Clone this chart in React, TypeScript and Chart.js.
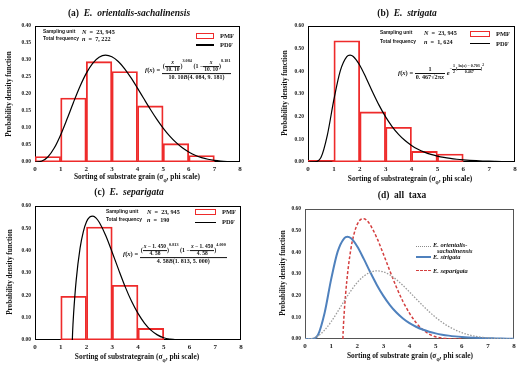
import React, { useEffect, useRef } from "react";
import { Chart, registerables } from "chart.js";
Chart.register(...registerables);

// ---------- data ----------
const binCentersA = [0.5, 1.5, 2.5, 3.5, 4.5, 5.5, 6.5];
const pmfA = [0.016, 0.188, 0.295, 0.266, 0.165, 0.054, 0.019];
const binCentersB = [0.5, 1.5, 2.5, 3.5, 4.5, 5.5];
const pmfB = [0.007, 0.535, 0.221, 0.153, 0.047, 0.035];
const binCentersC = [1.5, 2.5, 3.5, 4.5];
const pmfC = [0.196, 0.506, 0.245, 0.052];

const pdfXA = [0, 0.25, 0.5, 0.75, 1, 1.25, 1.5, 1.75, 2, 2.25, 2.5, 2.75, 3, 3.25, 3.5, 3.75, 4, 4.25, 4.5, 4.75, 5, 5.25, 5.5, 5.75, 6, 6.25, 6.5, 6.75, 7, 7.25, 7.5, 7.75, 8];
const pdfA = [0, 0.0021, 0.0146, 0.041, 0.0797, 0.1262, 0.1752, 0.2214, 0.2606, 0.29, 0.3079, 0.3144, 0.3097, 0.2956, 0.2741, 0.2472, 0.2171, 0.1859, 0.1552, 0.1262, 0.0999, 0.077, 0.0576, 0.0418, 0.0294, 0.0199, 0.013, 0.0081, 0.0048, 0.0027, 0.0014, 0.0007, 0.0003];

const pdfXB = [0, 0.25, 0.5, 0.75, 1, 1.25, 1.5, 1.625, 1.75, 2, 2.25, 2.5, 2.75, 3, 3.25, 3.5, 3.75, 4, 4.25, 4.5, 4.75, 5, 5.25, 5.5, 5.75, 6, 6.25, 6.5, 6.75, 7, 7.25, 7.5, 7.75, 8];
const pdfB = [0, 0.0002, 0.0196, 0.12, 0.2751, 0.4031, 0.4649, 0.4717, 0.4657, 0.427, 0.3697, 0.3079, 0.2497, 0.1989, 0.1565, 0.1221, 0.0947, 0.0732, 0.0565, 0.0436, 0.0336, 0.026, 0.0201, 0.0156, 0.0121, 0.0094, 0.0073, 0.0057, 0.0045, 0.0035, 0.0028, 0.0022, 0.0017, 0.0014];

const pdfXC = [1.45, 1.46, 1.475, 1.5, 1.6, 1.75, 1.875, 2, 2.125, 2.25, 2.375, 2.5, 2.75, 3, 3.25, 3.5, 3.75, 4, 4.25, 4.5, 4.75, 5, 5.25, 5.5, 5.75, 6];
const pdfC = [0, 0.034, 0.07, 0.12, 0.268, 0.411, 0.484, 0.529, 0.551, 0.555, 0.546, 0.526, 0.467, 0.392, 0.314, 0.239, 0.173, 0.119, 0.076, 0.044, 0.023, 0.01, 0.004, 0.001, 0.0001, 0];

const xMin = 0;
const xMax = 8;

// ---------- styles ----------
const serif = '"Liberation Serif", "Times New Roman", serif';
const sans = '"Liberation Sans", Arial, sans-serif';
const RED = "#ee2b2b";

const framePlugin = {
  id: "frame",
  beforeDatasetsDraw(chart: any, _args: any, opts: any) {
    const { ctx, chartArea } = chart;
    const { left, top, right, bottom } = chartArea;
    ctx.save();
    ctx.strokeStyle = opts.color || "#000";
    ctx.lineWidth = 1;
    ctx.strokeRect(Math.round(left) + 0.5, Math.round(top) + 0.5, Math.round(right - left) - 1, Math.round(bottom - top) - 1);
    ctx.restore();
  },
};

const pts = (xs: number[], ys: number[]) => xs.map((x, i) => ({ x, y: ys[i] }));

const barSet = (xs: number[], ys: number[]) => ({
  type: "bar",
  data: pts(xs, ys),
  borderColor: RED,
  backgroundColor: "rgba(255,255,255,0)",
  borderWidth: 1.2,
  borderSkipped: false,
  barPercentage: 1,
  categoryPercentage: 1,
  order: 2,
});

const lineSet = (xs: number[], ys: number[], color: string, width: number, dash: number[] = []) => ({
  type: "line",
  data: pts(xs, ys),
  borderColor: color,
  borderWidth: width,
  borderDash: dash,
  pointRadius: 0,
  fill: false,
  cubicInterpolationMode: "monotone",
  order: 1,
});

type Spec = {
  left: number; top: number; w: number; h: number;
  L: number; R: number; T: number; B: number;
  yMax: number; yStep: number; datasets: any[]; frame: string;
};

function ChartPanel({ spec }: { spec: Spec }) {
  const ref = useRef<HTMLCanvasElement>(null);
  useEffect(() => {
    const yW = 24;
    const xH = 12;
    const chart = new Chart(ref.current as HTMLCanvasElement, {
      type: "line",
      data: { datasets: spec.datasets },
      options: {
        responsive: false,
        animation: false,
        devicePixelRatio: 1,
        layout: {
          padding: {
            left: spec.L - yW,
            right: spec.w - spec.R,
            top: spec.T,
            bottom: spec.h - spec.B - xH,
          },
        },
        plugins: {
          legend: { display: false },
          tooltip: { enabled: false },
          title: { display: false },
          frame: { color: spec.frame },
        } as any,
        scales: {
          x: {
            type: "linear",
            min: xMin,
            max: xMax,
            offset: false,
            grid: { display: false, drawTicks: false },
            border: { display: false },
            ticks: {
              stepSize: 1,
              autoSkip: false,
              maxRotation: 0,
              padding: 3,
              color: "#222",
              font: { family: serif, size: 7, weight: "bold" },
            },
            afterFit: (s: any) => { s.height = xH; },
          },
          y: {
            type: "linear",
            min: 0,
            max: spec.yMax,
            grid: { display: false, drawTicks: false },
            border: { display: false },
            ticks: {
              stepSize: spec.yStep,
              padding: 4,
              color: "#222",
              font: { family: serif, size: 5.5, weight: "bold" },
              callback: (v: any) => Number(v).toFixed(2),
            },
            afterFit: (s: any) => { s.width = yW; },
          },
        } as any,
      } as any,
      plugins: [framePlugin],
    } as any);
    return () => chart.destroy();
  }, []);
  return (
    <canvas
      ref={ref}
      width={spec.w}
      height={spec.h}
      style={{ position: "absolute", left: spec.left, top: spec.top, width: spec.w, height: spec.h }}
    />
  );
}

function Txt(props: {
  x: number; y: number; size: number; children: any;
  anchor?: "start" | "middle" | "end"; bold?: boolean; italic?: boolean;
  family?: string; rotate?: boolean; color?: string;
}) {
  const { x, y, size, children, anchor = "start", bold = false, italic = false, family = serif, rotate = false, color = "#111" } = props;
  const tx = anchor === "middle" ? "-50%" : anchor === "end" ? "-100%" : "0";
  return (
    <div
      style={{
        position: "absolute",
        left: x,
        top: y,
        transform: `translate(${tx}, -50%)${rotate ? " rotate(-90deg)" : ""}`,
        fontFamily: family,
        fontSize: size,
        fontWeight: bold ? "bold" : "normal",
        fontStyle: italic ? "italic" : "normal",
        color,
        whiteSpace: "nowrap",
        lineHeight: 1,
      }}
    >
      {children}
    </div>
  );
}

function Frac({ n, d, size, line = 0.7 }: { n: any; d: any; size: number; line?: number }) {
  return (
    <span style={{ display: "inline-flex", flexDirection: "column", alignItems: "center", verticalAlign: "middle", fontSize: size, lineHeight: 1.05 }}>
      <span style={{ padding: "0 1px" }}>{n}</span>
      <span style={{ borderTop: `${line}px solid #111`, padding: "0 1px", alignSelf: "stretch", textAlign: "center" }}>{d}</span>
    </span>
  );
}

const Sup = ({ children }: { children: any }) => (
  <span style={{ fontSize: 4.2, alignSelf: "flex-start", position: "relative", top: -1 }}>{children}</span>
);

function Legend2({ x, y1, y2, lineX1, lineX2 }: { x: number; y1: number; y2: number; lineX1: number; lineX2: number }) {
  return (
    <>
      <div style={{ position: "absolute", left: lineX1, top: y1 - 3, width: lineX2 - lineX1, height: 6, border: `1.5px solid ${RED}`, boxSizing: "border-box" }} />
      <Txt x={x} y={y1} size={6.5} bold>PMF</Txt>
      <div style={{ position: "absolute", left: lineX1, top: y2 - 0.75, width: lineX2 - lineX1, height: 1.5, background: "#000" }} />
      <Txt x={x} y={y2} size={6.5} bold>PDF</Txt>
    </>
  );
}

function Sampling({ x, vx, y1, y2, n }: { x: number; vx: number; y1: number; y2: number; n: string }) {
  return (
    <>
      <Txt x={x} y={y1} size={4.9} family={sans} bold>Sampling unit</Txt>
      <Txt x={vx} y={y1} size={6.2} bold><i>N</i>&nbsp; = &nbsp;23, 945</Txt>
      <Txt x={x} y={y2} size={4.9} family={sans} bold>Total frequency</Txt>
      <Txt x={vx} y={y2} size={6.2} bold><i>n</i>&nbsp; = &nbsp;{n}</Txt>
    </>
  );
}

const fStyle: any = {
  position: "absolute",
  transform: "translateY(-50%)",
  fontFamily: serif,
  fontSize: 6.5,
  fontWeight: "bold",
  color: "#111",
  display: "flex",
  alignItems: "center",
  whiteSpace: "nowrap",
  lineHeight: 1,
};

export default function App() {
  const specA: Spec = {
    left: 0, top: 0, w: 264, h: 185, L: 35, R: 240, T: 26, B: 162, yMax: 0.4, yStep: 0.05, frame: "#000",
    datasets: [barSet(binCentersA, pmfA), lineSet(pdfXA, pdfA, "#000", 1.2)],
  };
  const specB: Spec = {
    left: 264, top: 0, w: 265, h: 185, L: 44, R: 251, T: 26, B: 162, yMax: 0.6, yStep: 0.1, frame: "#000",
    datasets: [barSet(binCentersB, pmfB), lineSet(pdfXB, pdfB, "#000", 1.2)],
  };
  const specC: Spec = {
    left: 0, top: 185, w: 264, h: 185, L: 35, R: 241, T: 21, B: 155, yMax: 0.6, yStep: 0.1, frame: "#000",
    datasets: [barSet(binCentersC, pmfC), lineSet(pdfXC, pdfC, "#000", 1.2)],
  };
  const specD: Spec = {
    left: 264, top: 185, w: 265, h: 185, L: 41, R: 250, T: 24, B: 154, yMax: 0.6, yStep: 0.1, frame: "#555",
    datasets: [
      lineSet(pdfXA, pdfA, "#9a9a9a", 1.3, [1.5, 1.5]),
      lineSet(pdfXB, pdfB, "#4f81bd", 2),
      lineSet(pdfXC, pdfC, "#d43f3f", 1.5, [3, 2]),
    ],
  };

  const xTitle = (g: boolean) => (
    <>Sorting of substrate{g ? " " : ""}grain (σ<sub style={{ fontSize: "0.7em" }}>φ</sub>, phi scale)</>
  );

  const fracX = (s: number) => <Frac n={<i>x</i>} d="10. 10" size={s} line={0.5} />;
  const fracC = (s: number) => <Frac n={<><i>x</i> − 1. 450</>} d="4. 58" size={s} line={0.5} />;

  return (
    <div style={{ position: "fixed", left: 0, top: 0, width: 529, height: 370, background: "#fff", overflow: "hidden" }}>
      <ChartPanel spec={specA} />
      <ChartPanel spec={specB} />
      <ChartPanel spec={specC} />
      <ChartPanel spec={specD} />

      {/* titles */}
      <Txt x={129} y={14} size={9.5} bold anchor="middle">(a)&nbsp; <i>E.&nbsp; orientalis-sachalinensis</i></Txt>
      <Txt x={407} y={14} size={9.5} bold anchor="middle">(b)&nbsp; <i>E.&nbsp; strigata</i></Txt>
      <Txt x={129} y={193} size={9.5} bold anchor="middle">(c)&nbsp; <i>E.&nbsp; separigata</i></Txt>
      <Txt x={402} y={196} size={9.5} bold anchor="middle">(d)&nbsp; all&nbsp; taxa</Txt>

      {/* y titles */}
      <Txt x={10} y={94} size={7.2} bold anchor="middle" rotate>Probability density function</Txt>
      <Txt x={286} y={93} size={7.2} bold anchor="middle" rotate>Probability density function</Txt>
      <Txt x={11} y={272} size={7.2} bold anchor="middle" rotate>Probability density function</Txt>
      <Txt x={284} y={273} size={7.2} bold anchor="middle" rotate>Probability density function</Txt>

      {/* x titles */}
      <Txt x={137} y={178} size={7.4} bold anchor="middle">{xTitle(true)}</Txt>
      <Txt x={410} y={180} size={7.4} bold anchor="middle">{xTitle(false)}</Txt>
      <Txt x={137} y={358} size={7.4} bold anchor="middle">{xTitle(false)}</Txt>
      <Txt x={410} y={357} size={7.4} bold anchor="middle">{xTitle(true)}</Txt>

      {/* sampling info */}
      <Sampling x={43} vx={82} y1={31.5} y2={39} n="7, 222" />
      <Sampling x={380} vx={424} y1={33} y2={41.5} n="1, 624" />
      <Sampling x={106} vx={147} y1={212} y2={220} n="190" />

      {/* PMF / PDF legends */}
      <Legend2 x={220} y1={35.5} y2={45} lineX1={196} lineX2={214} />
      <Legend2 x={496} y1={34} y2={43.5} lineX1={470} lineX2={490} />
      <Legend2 x={222} y1={212.3} y2={222.3} lineX1={195} lineX2={216} />

      {/* formula (a) */}
      <div style={{ ...fStyle, left: 145, top: 70 }}>
        <span><i>f</i>(<i>x</i>) =&nbsp;</span>
        <Frac
          size={6}
          line={0.6}
          n={<span style={{ display: "inline-flex", alignItems: "center" }}>({fracX(5.5)})<Sup>3.084</Sup>&nbsp;(1 − {fracX(5.5)})<Sup>8.181</Sup></span>}
          d={<span>10. 10<i>B</i>(4. 084, 9. 181)</span>}
        />
      </div>

      {/* formula (b) */}
      <div style={{ ...fStyle, left: 398, top: 73 }}>
        <span><i>f</i>(<i>x</i>) =&nbsp;</span>
        <Frac size={6.2} line={0.6} n="1" d={<span>0. 467√2π<i>x</i></span>} />
        <span>&nbsp;<i>e</i></span>
        <span style={{ fontSize: 4.2, position: "relative", top: -4, display: "inline-flex", alignItems: "center" }}>
          −<Frac size={4} line={0.4} n="1" d="2" />[<Frac size={4} line={0.4} n={<span>ln(<i>x</i>) − 0.703</span>} d="0.467" />]<span style={{ alignSelf: "flex-start", fontSize: 3.6 }}>2</span>
        </span>
      </div>

      {/* formula (c) */}
      <div style={{ ...fStyle, left: 123, top: 254 }}>
        <span><i>f</i>(<i>x</i>) =&nbsp;</span>
        <Frac
          size={6}
          line={0.6}
          n={<span style={{ display: "inline-flex", alignItems: "center" }}>({fracC(5.5)})<Sup>0.813</Sup>&nbsp;(1 − {fracC(5.5)})<Sup>4.000</Sup></span>}
          d={<span>4. 58<i>B</i>(1. 813, 5. 000)</span>}
        />
      </div>

      {/* legend (d) */}
      <div style={{ position: "absolute", left: 416, top: 245.5, width: 15, height: 0, borderTop: "1.3px dotted #8a8a8a" }} />
      <Txt x={433} y={245} size={6.4} bold italic>E. orientalis-</Txt>
      <Txt x={437} y={251} size={6.4} bold italic>sachalinensis</Txt>
      <div style={{ position: "absolute", left: 416, top: 256, width: 15, height: 2, background: "#4f81bd" }} />
      <Txt x={433} y={257} size={6.4} bold italic>E. strigata</Txt>
      <div style={{ position: "absolute", left: 416, top: 270, width: 15, height: 0, borderTop: "1.5px dashed #d43f3f" }} />
      <Txt x={433} y={270.7} size={6.4} bold italic>E. separigata</Txt>
    </div>
  );
}
